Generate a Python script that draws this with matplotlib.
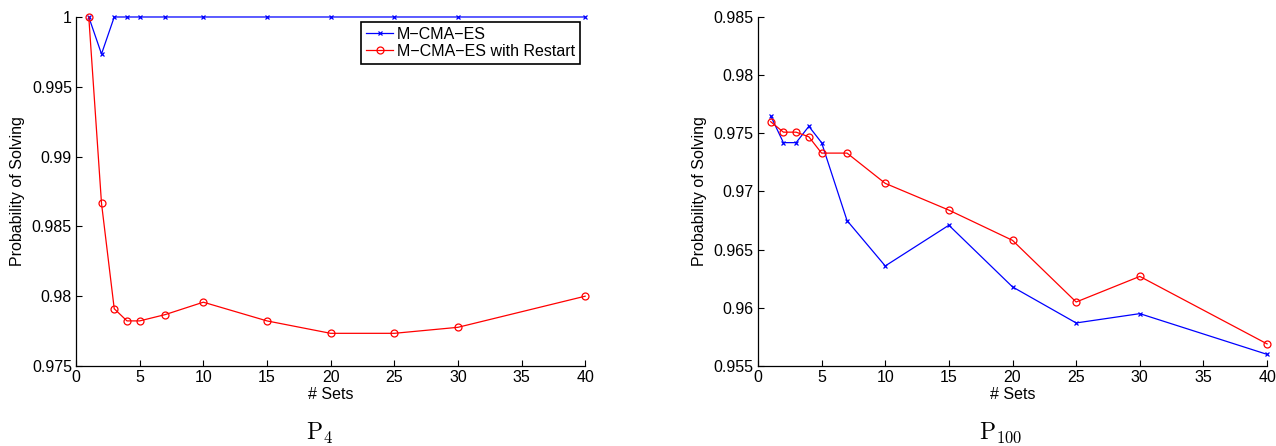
import numpy as np
import matplotlib
matplotlib.use('Agg')
import matplotlib.pyplot as plt
from matplotlib.ticker import FuncFormatter

plt.rcParams['font.family'] = ['Liberation Sans', 'DejaVu Sans']
plt.rcParams['mathtext.fontset'] = 'cm'

# number of sets on the x axis
sets = [1, 2, 3, 4, 5, 7, 10, 15, 20, 25, 30, 40]

# P4 problem
p4_mcma = [1.0, 0.99735, 1.0, 1.0, 1.0, 1.0, 1.0, 1.0, 1.0, 1.0, 1.0, 1.0]
p4_restart = [1.0, 0.98665, 0.9791, 0.97823, 0.97823, 0.97868, 0.97957,
              0.97823, 0.97734, 0.97734, 0.97777, 0.9800]

# P100 problem
p100_mcma = [0.9765, 0.9742, 0.9742, 0.9756, 0.9742, 0.9675, 0.9636,
             0.9671, 0.9618, 0.9587, 0.9595, 0.9560]
p100_restart = [0.9760, 0.9751, 0.9751, 0.9747, 0.9733, 0.9733, 0.9707,
                0.9684, 0.9658, 0.9605, 0.9627, 0.9569]

series_names = ['M\u2212CMA\u2212ES', 'M\u2212CMA\u2212ES with Restart']
captions = [r'$\mathrm{P}_{4}$', r'$\mathrm{P}_{100}$']

fig = plt.figure(figsize=(12.76, 4.46), dpi=100)
ax1 = fig.add_axes([0.0596, 0.1794, 0.399, 0.7825])
ax2 = fig.add_axes([0.594, 0.1794, 0.399, 0.7825])


def style_axis(ax, ylo, yhi):
    ax.set_xlim(0, 40)
    ax.set_ylim(ylo, yhi)
    ax.set_xticks(np.arange(0, 41, 5))
    ax.set_yticks(np.arange(ylo, yhi + 1e-9, 0.005))
    ax.yaxis.set_major_formatter(FuncFormatter(lambda v, p: '%g' % round(v, 4)))
    for s in ['top', 'right']:
        ax.spines[s].set_visible(False)
    for s in ['left', 'bottom']:
        ax.spines[s].set_linewidth(0.9)
    ax.tick_params(direction='in', length=4, width=0.8, labelsize=11.5, pad=3)
    ax.set_xlabel('# Sets', fontsize=11.5, labelpad=1)
    ax.set_ylabel('Probability of Solving', fontsize=11.5)
    ax.yaxis.set_label_coords(-0.101, 0.5)


ax1.plot(sets, p4_mcma, color='blue', marker='x', markersize=3.2, lw=0.9,
         mew=0.9, label=series_names[0])
ax1.plot(sets, p4_restart, color='red', marker='o', markersize=5, lw=0.9,
         mfc='none', mew=0.9, label=series_names[1])
style_axis(ax1, 0.975, 1.0)
for ln in ax1.lines:
    ln.set_clip_on(False)
leg = ax1.legend(loc='upper right', bbox_to_anchor=(0.99, 0.986), fontsize=11.5,
                 frameon=True, fancybox=False, edgecolor='black', framealpha=1,
                 handlelength=1.7, handletextpad=0.25, labelspacing=0.15,
                 borderpad=0.3, borderaxespad=0)
leg.get_frame().set_linewidth(1.2)

ax2.plot(sets, p100_mcma, color='blue', marker='x', markersize=3.2, lw=0.9,
         mew=0.9)
ax2.plot(sets, p100_restart, color='red', marker='o', markersize=5, lw=0.9,
         mfc='none', mew=0.9)
style_axis(ax2, 0.955, 0.985)
for ln in ax2.lines:
    ln.set_clip_on(False)

fig.text(0.25, 0.029, captions[0], fontsize=17, ha='center', va='center')
fig.text(0.784, 0.029, captions[1], fontsize=17, ha='center', va='center')

fig.savefig('out.png', dpi=100)
